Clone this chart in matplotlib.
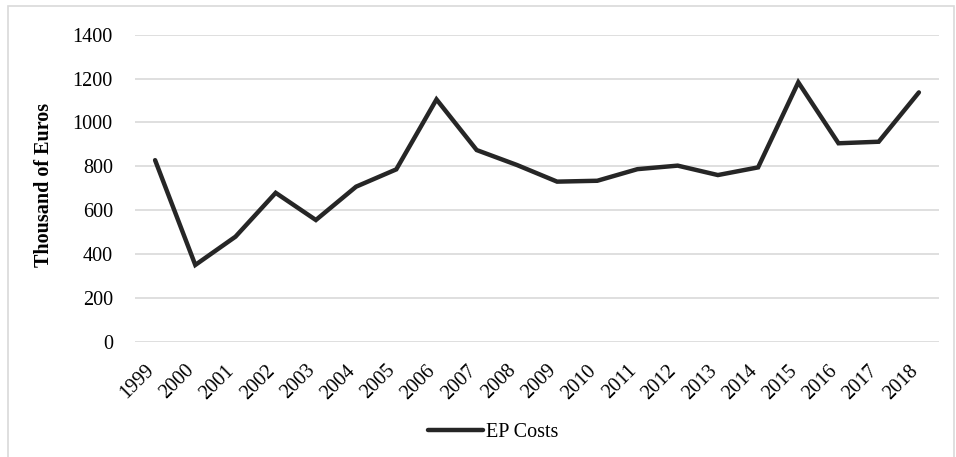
import matplotlib
matplotlib.use('Agg')
import matplotlib.pyplot as plt
from matplotlib.patches import Rectangle
from matplotlib.transforms import ScaledTranslation

plt.rcParams['font.family'] = ['Liberation Serif', 'DejaVu Serif']

# EP costs per year (thousand of euros)
years = ['1999', '2000', '2001', '2002', '2003', '2004', '2005', '2006', '2007', '2008',
         '2009', '2010', '2011', '2012', '2013', '2014', '2015', '2016', '2017', '2018']
ep_costs = [828, 350, 479, 679, 555, 707, 786, 1105, 874, 806,
            730, 734, 787, 803, 760, 795, 1183, 905, 912, 1137]
y_ticks = [0, 200, 400, 600, 800, 1000, 1200, 1400]

fig = plt.figure(figsize=(9.56, 4.57), dpi=100)
ax = fig.add_axes([0.1412, 0.2523, 0.8410, 0.6717])

# outer chart border, like an Excel chart frame
fig.patches.append(Rectangle((8/956, -0.01), 946/956, 1 - 6/457 + 0.01,
                             transform=fig.transFigure, fill=False,
                             edgecolor='#d9d9d9', linewidth=1.2))

x = list(range(len(years)))
ax.plot(x, ep_costs, color='#262626', linewidth=3.2, solid_joinstyle='miter',
        solid_capstyle='round', label='EP Costs')

ax.set_xlim(-0.5, len(years) - 0.5)
ax.set_ylim(0, 1400)
ax.set_yticks(y_ticks)
ax.set_xticks(x)
ax.set_xticklabels(years, rotation=45, ha='right', va='top', fontsize=14.5)
ax.tick_params(axis='y', labelsize=14.5, length=0, pad=16)
ax.tick_params(axis='x', length=0, pad=14)
shift = ScaledTranslation(3/100, 0, fig.dpi_scale_trans)
for lab in ax.get_xticklabels():
    lab.set_transform(lab.get_transform() + shift)

ax.grid(axis='y', color='#d9d9d9', linewidth=1.2)
ax.set_axisbelow(True)
for s in ax.spines.values():
    s.set_visible(False)

ax.set_ylabel('Thousand of Euros', fontsize=14.5, fontweight='bold')
ax.yaxis.set_label_coords(-0.101, 0.51)

fig.legend(loc='center', bbox_to_anchor=(0.516, 0.0547), frameon=False,
           fontsize=14.5, handlelength=2.7, handletextpad=0.15)

fig.savefig('out.png', dpi=100)
